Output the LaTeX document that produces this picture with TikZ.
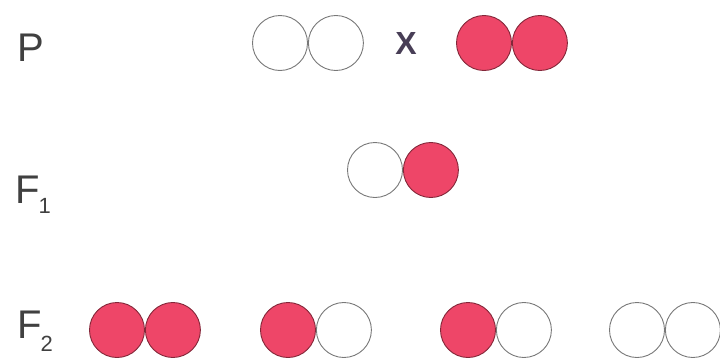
\documentclass[tikz,border=0pt]{standalone}
\usepackage{fontspec}
\setmainfont{Liberation Sans}
\definecolor{allelered}{RGB}{238,70,104}
\definecolor{rimgray}{RGB}{120,120,120}
\definecolor{crossgray}{RGB}{72,62,86}
\usetikzlibrary{positioning}

\begin{document}
\begin{tikzpicture}[x=1pt,y=-1pt,
    white allele/.style={circle,draw=rimgray,line width=0.9pt,fill=white,minimum size=55pt,inner sep=0pt},
    red allele/.style={white allele,draw=allelered!55!black,fill=allelered},
    gen/.style={anchor=base west,inner sep=0pt,text=black!75,font=\fontsize{40}{40}\selectfont}
]
    \useasboundingbox (0,0) rectangle (720,359);

    % generation labels
    \node[gen] (lp) at (17,61) {P};
    \node[gen] (lf1) at (15,203) {F\kern-1pt\raisebox{-10pt}{\fontsize{22}{22}\selectfont 1}};
    \node[gen] (lf2) at (17,338) {F\kern-1pt\raisebox{-13pt}{\fontsize{22}{22}\selectfont 2}};

    % parents
    \node[white allele] (p1) at (280,43) {};
    \node[white allele,right=0pt of p1] (p2) {};
    \node[text=crossgray,font=\bfseries\fontsize{32}{32}\selectfont] (cross) at (406,43) {X};
    \node[red allele] (p3) at (484,43) {};
    \node[red allele,right=0pt of p3] (p4) {};

    % first filial generation
    \node[white allele] (f1a) at (375,170) {};
    \node[red allele,right=0pt of f1a] (f1b) {};

    % second filial generation
    \node[red allele] (fa) at (117,330) {};
    \node[red allele,right=0pt of fa] (fb) {};
    \node[red allele] (fc) at (288,330) {};
    \node[white allele,right=0pt of fc] (fd) {};
    \node[red allele] (fe) at (468,330) {};
    \node[white allele,right=0pt of fe] (ff) {};
    \node[white allele] (fg) at (637,330) {};
    \node[white allele,right=0pt of fg] (fh) {};
\end{tikzpicture}
\end{document}
